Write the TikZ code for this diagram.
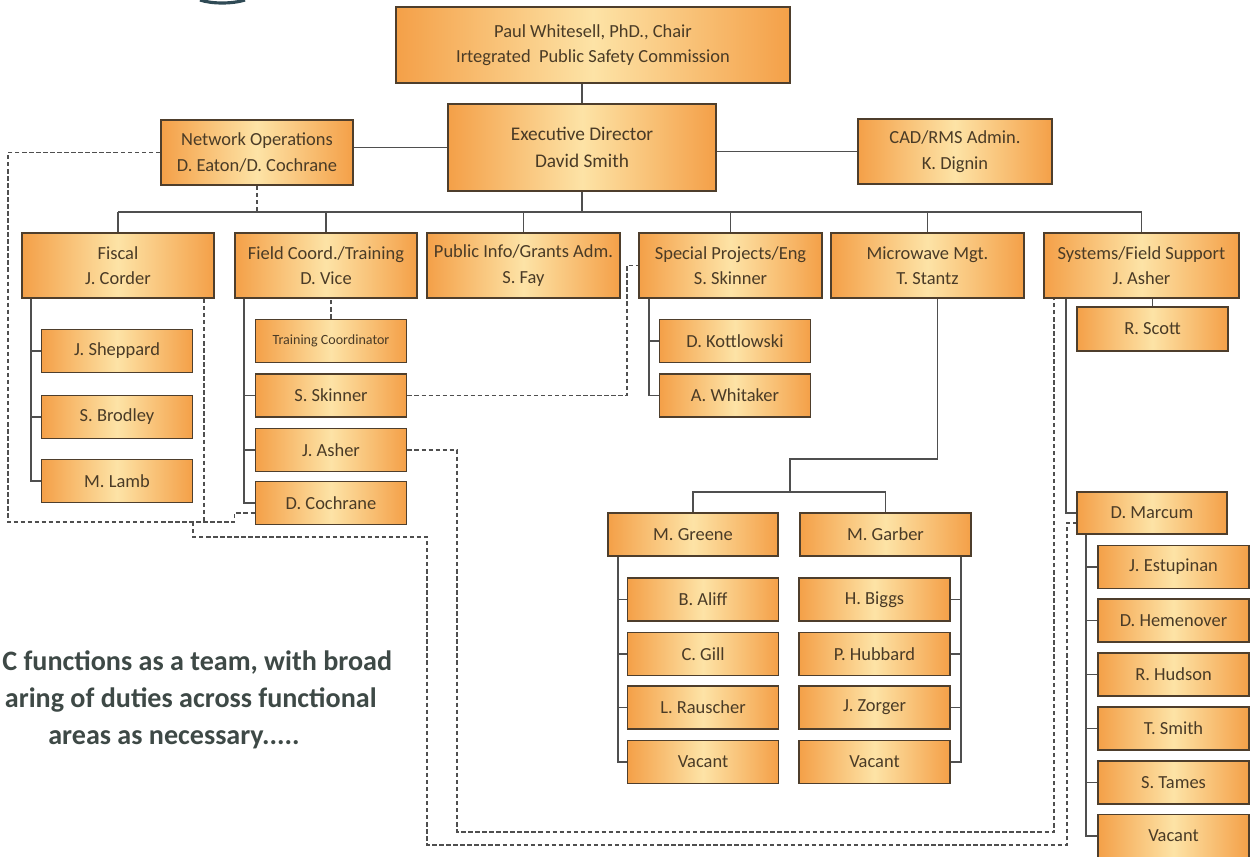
\documentclass[tikz,border=0pt]{standalone}
\usepackage{fontspec}
\setmainfont{Carlito}
\usetikzlibrary{calc, positioning}
\definecolor{orng}{HTML}{F4A048}
\definecolor{pale}{HTML}{FDE3A6}
\definecolor{rim}{HTML}{4E3E2C}
\definecolor{ink}{HTML}{4A3B26}
\definecolor{wirec}{HTML}{4F4F4F}
\definecolor{slate}{HTML}{3E4946}
\definecolor{logo}{HTML}{2F4A55}

\begin{document}
\begin{tikzpicture}[x=0.02cm, y=-0.02cm,
        box/.style={draw=rim, line width=1.1pt, left color=orng, right color=orng, middle color=pale,
            text=ink, align=center, inner sep=0pt, font=\fontsize{10.5}{14.5}\selectfont},
        unit/.style={box, minimum height=1.3cm},
        staff/.style={box, minimum width=3.02cm, minimum height=0.86cm},
        wire/.style={draw=wirec, line width=0.8pt},
        dline/.style={draw=wirec, line width=0.9pt, dash pattern=on 2.5pt off 1.5pt},
        note/.style={text=slate, anchor=east, inner sep=0pt, font=\bfseries\fontsize{16}{19}\selectfont}]
        \useasboundingbox (0,0) rectangle (1253,857);
        \draw[line width=1.8pt, logo] (200,0) .. controls (212,4) and (232,4) .. (245,0);

        \node[box, minimum width=7.88cm, minimum height=1.52cm] (chair) at (593,45) {Paul Whitesell, PhD., Chair\\Irtegrated\ \ Public Safety Commission};
        \node[box, minimum width=5.36cm, minimum height=1.74cm, font=\fontsize{11}{15}\selectfont] (exec) at (582,147.5) {Executive Director\\David Smith};
        \node[unit, minimum width=3.84cm] (netops) at (257,152.5) {Network Operations\\D. Eaton/D. Cochrane};
        \node[unit, minimum width=3.88cm] (cad) at (955,151.5) {CAD/RMS Admin.\\K. Dignin};

        \node[unit, minimum width=3.84cm] (fiscal) at (118,265.5) {Fiscal\\J. Corder};
        \node[unit, minimum width=3.64cm] (field) at (326,265.5) {Field Coord./Training\\D. Vice};
        \node[unit, minimum width=3.86cm] (pubinfo) at (523.5,265.5) {Public Info/Grants Adm.\\S. Fay};
        \node[unit, minimum width=3.66cm] (special) at (730.5,265.5) {Special Projects/Eng\\S. Skinner};
        \node[unit, minimum width=3.86cm] (micro) at (927.5,265.5) {Microwave Mgt.\\T. Stantz};
        \node[unit, minimum width=3.9cm] (systems) at (1141.5,265.5) {Systems/Field Support\\J. Asher};

        \node[staff] (shep) at (117,351) {J. Sheppard};
        \node[staff] (brod) at (117,417) {S. Brodley};
        \node[staff] (lamb) at (117,481) {M. Lamb};

        \node[staff, font=\fontsize{8}{10}\selectfont] (train) at (331,341) {Training Coordinator};
        \node[staff] (sskin) at (331,395.5) {S. Skinner};
        \node[staff] (jasher) at (331,450) {J. Asher};
        \node[staff] (dcoch) at (331,503) {D. Cochrane};

        \node[staff] (kott) at (735,341) {D. Kottlowski};
        \node[staff] (whit) at (735,395.5) {A. Whitaker};

        \node[staff, minimum height=0.88cm] (rscott) at (1152.5,329) {R. Scott};

        \node[staff, minimum width=3.4cm] (greene) at (693,534.5) {M. Greene};
        \node[staff, minimum width=3.42cm] (garber) at (885.5,534.5) {M. Garber};
        \node[staff] (aliff) at (703,599.5) {B. Aliff};
        \node[staff] (gill) at (703,654) {C. Gill};
        \node[staff] (rausch) at (703,707.5) {L. Rauscher};
        \node[staff] (gvac) at (703,762) {Vacant};
        \node[staff] (biggs) at (874.5,599.5) {H. Biggs};
        \node[staff] (hubb) at (874.5,654) {P. Hubbard};
        \node[staff] (zorg) at (874.5,707.5) {J. Zorger};
        \node[staff] (bvac) at (874.5,762) {Vacant};

        \node[staff, minimum width=3cm, minimum height=0.84cm] (marcum) at (1152,513) {D. Marcum};
        \node[staff] (estu) at (1173.5,567) {J. Estupinan};
        \node[staff] (hemen) at (1173.5,620.5) {D. Hemenover};
        \node[staff] (hud) at (1173.5,674.5) {R. Hudson};
        \node[staff] (tsmith) at (1173.5,728.5) {T. Smith};
        \node[staff] (tames) at (1173.5,782.5) {S. Tames};
        \node[staff] (mvac) at (1173.5,836) {Vacant};

        \node[note, anchor=west] (note1) at (2,663) {C functions as a team, with broad};
        \node[note] (note2) at (377,700) {aring of duties across functional};
        \node[note] (note3) at (300,740) {areas as necessary.....};

        \coordinate (bus) at (577,212);
        \coordinate (step) at (790,459);
        \coordinate (mgbus) at (790,492);
        \coordinate (nw) at (8,522);
        \coordinate (sw) at (193,522);
        \coordinate (cut) at (427,537);
        \coordinate (se) at (1067,845);
        \coordinate (inner) at (457,832);

        \draw[wire] (chair.south -| exec.north) -- (exec.north);
        \draw[wire] (exec.west) -- (exec.west -| netops.east);
        \draw[wire] (cad.west) -- (cad.west -| exec.east);
        \draw[wire] (exec.south) -- (exec.south |- bus);
        \draw[wire] (fiscal.north |- bus) -- (systems.north |- bus);
        \foreach \u in {fiscal, field, pubinfo, special, micro, systems}
            \draw[wire] (\u.north) -- (\u.north |- bus);
        \draw[dline] (netops.south) -- (netops.south |- bus);

        \draw[wire] ([xshift=0.2cm]fiscal.south west) |- (lamb.west);
        \foreach \s in {shep, brod}
            \draw[wire] (\s.west) -- ++(-10,0);
        \draw[wire] ([xshift=0.2cm]field.south west) |- (dcoch.west);
        \foreach \s in {sskin, jasher}
            \draw[wire] (\s.west) -- ++(-10,0);
        \draw[dline] (train.north) -- (train.north |- field.south);
        \draw[wire] ([xshift=0.22cm]special.south west) |- (whit.west);
        \draw[wire] (kott.west) -- ++(-10,0);

        \draw[wire] (rscott.north) -- (rscott.north |- systems.south);
        \draw[wire] ([xshift=0.46cm]systems.south west) |- (marcum.west);
        \draw[wire] ([xshift=0.2cm]marcum.south west) |- (mvac.west);
        \foreach \s in {estu, hemen, hud, tsmith, tames}
            \draw[wire] (\s.west) -- ++(-11,0);

        \draw[wire] ([xshift=0.2cm]micro.south) |- (step) -- (mgbus);
        \draw[wire] (greene.north) |- (mgbus) -| (garber.north);
        \draw[wire] ([xshift=0.22cm]greene.south west) |- (gvac.west);
        \foreach \s in {aliff, gill, rausch}
            \draw[wire] (\s.west) -- ++(-8,0);
        \draw[wire] ([xshift=-0.22cm]garber.south east) |- (bvac.east);
        \foreach \s in {biggs, hubb, zorg}
            \draw[wire] (\s.east) -- ++(10,0);

        \draw[dline] (netops.west) -| (nw) -| ([xshift=-0.4cm,yshift=-0.2cm]dcoch.west) -- ([yshift=-0.2cm]dcoch.west);
        \draw[dline] ([xshift=-0.22cm]fiscal.south east) -- ([xshift=-0.22cm]fiscal.south east |- nw);
        \draw[dline] (sw) |- (cut) |- (se) |- ([yshift=-0.2cm]marcum.west);
        \draw[dline] (jasher.east) -| (inner) -| ([xshift=0.22cm]systems.south west);
        \draw[dline] (sskin.east) -| ([xshift=-0.22cm]special.west) -- (special.west);
\end{tikzpicture}
\end{document}
